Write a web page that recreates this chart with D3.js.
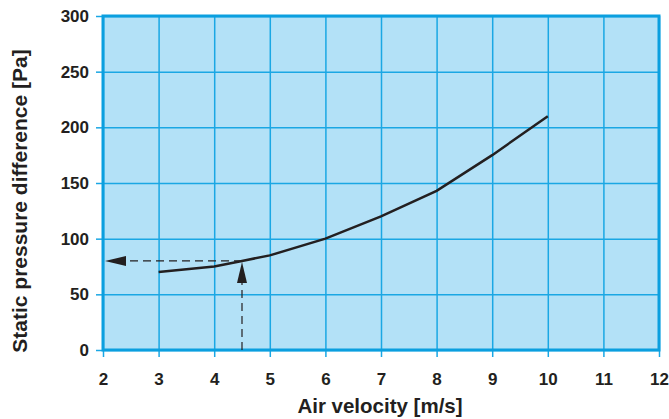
<!DOCTYPE html>
<html><head><meta charset="utf-8">
<script src="https://cdn.jsdelivr.net/npm/d3@7"></script>
<style>body{margin:0;background:#fff}svg{display:block}text{font-family:"Liberation Sans",Arial,sans-serif;font-weight:bold;fill:#231f20}</style>
</head><body><svg id="c" width="669" height="419"></svg>
<script>
const velocity = [3, 4, 4.5, 5, 6, 7, 8, 9, 10];
const pressure = [70, 75, 80, 85, 100, 120, 143, 175, 210];
const xTicks = [2,3,4,5,6,7,8,9,10,11,12];
const yTicks = [0,50,100,150,200,250,300];
const readV = 4.5, readP = 80;

const svg = d3.select("#c");
const L=103, R=659, T=16, B=350;
const x = d3.scaleLinear().domain([2,12]).range([L,R]);
const y = d3.scaleLinear().domain([0,300]).range([B,T]);
const gridC = "#1aa7e4", borderC = "#0b9fdf";

svg.append("rect").attr("x",L).attr("y",T).attr("width",R-L).attr("height",B-T).attr("fill","#b3e1f7");

const gx = svg.append("g").attr("transform",`translate(0,${B})`)
  .call(d3.axisBottom(x).tickValues(xTicks).tickSize(-(B-T)).tickFormat(""));
gx.selectAll("line").attr("stroke",gridC).attr("stroke-width",1.5);
gx.select(".domain").remove();
const gy = svg.append("g").attr("transform",`translate(${L},0)`)
  .call(d3.axisLeft(y).tickValues(yTicks).tickSize(-(R-L)).tickFormat(""));
gy.selectAll("line").attr("stroke",gridC).attr("stroke-width",1.5);
gy.select(".domain").remove();

// outer ticks + labels
const ax = svg.append("g").attr("transform",`translate(0,${B})`)
  .call(d3.axisBottom(x).tickValues(xTicks).tickSize(7).tickPadding(16).tickFormat(d3.format("d")));
ax.select(".domain").remove();
ax.selectAll("line").attr("stroke",gridC).attr("stroke-width",1.5);
ax.selectAll("text").attr("font-size",17).attr("fill","#231f20");
const ay = svg.append("g").attr("transform",`translate(${L},0)`)
  .call(d3.axisLeft(y).tickValues(yTicks).tickSize(7).tickPadding(7).tickFormat(d3.format("d")));
ay.select(".domain").remove();
ay.selectAll("line").attr("stroke",gridC).attr("stroke-width",1.5);
ay.selectAll("text").attr("font-size",17).attr("fill","#231f20");

svg.append("rect").attr("x",L).attr("y",T).attr("width",R-L).attr("height",B-T)
  .attr("fill","none").attr("stroke",borderC).attr("stroke-width",3);

// dashed reading lines
svg.append("line").attr("x1",x(readV)).attr("x2",x(2)+20).attr("y1",y(readP)).attr("y2",y(readP))
  .attr("stroke","#231f20").attr("stroke-width",1.2).attr("stroke-dasharray","8,5");
svg.append("line").attr("x1",x(readV)).attr("x2",x(readV)).attr("y1",B).attr("y2",y(readP)+20)
  .attr("stroke","#231f20").attr("stroke-width",1.2).attr("stroke-dasharray","8,5");
// arrowheads
const hx = x(2)+2, hy = y(readP);
svg.append("path").attr("d",`M${hx},${hy} L${hx+21},${hy-5} L${hx+21},${hy+5} Z`).attr("fill","#231f20");
const vx = x(readV), vy = y(readP)+1;
svg.append("path").attr("d",`M${vx},${vy} L${vx-5},${vy+21} L${vx+5},${vy+21} Z`).attr("fill","#231f20");

// curve
svg.append("path").datum(velocity.map((v,i)=>[v,pressure[i]]))
  .attr("d",d3.line().x(d=>x(d[0])).y(d=>y(d[1])))
  .attr("fill","none").attr("stroke","#231f20").attr("stroke-width",2.5);

svg.append("text").attr("x",380).attr("y",413).attr("text-anchor","middle").attr("font-size",20.5).text("Air velocity [m/s]");
svg.append("text").attr("transform",`translate(27,201) rotate(-90)`).attr("text-anchor","middle").attr("font-size",21).text("Static pressure difference [Pa]");
</script></body></html>
